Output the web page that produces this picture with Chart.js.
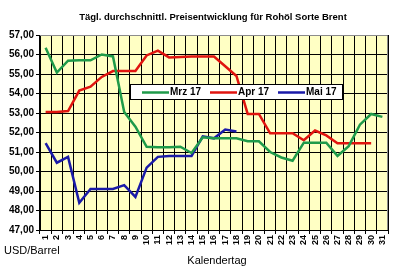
<!DOCTYPE html>
<html>
<head>
<meta charset="utf-8">
<script src="https://cdn.jsdelivr.net/npm/chart.js@4/dist/chart.umd.min.js"></script>
<style>
  html, body { margin: 0; padding: 0; background: #fff; }
  #wrap { width: 406px; height: 269px; position: relative; }
</style>
</head>
<body>
<div id="wrap"><canvas id="chart" width="406" height="269"></canvas></div>
<script>
// Daten
const days = Array.from({ length: 31 }, (_, i) => String(i + 1));

const mrz17 = [56.35, 55.07, 55.68, 55.70, 55.70, 56.00, 55.90, 53.05, 52.30, 51.27,
  51.25, 51.25, 51.27, 50.95, 51.75, 51.70, 51.70, 51.70, 51.55, 51.55,
  51.00, 50.72, 50.55, 51.48, 51.48, 51.48, 50.80, 51.30, 52.40, 52.95, 52.80];

const apr17 = [53.05, 53.05, 53.10, 54.15, 54.35, 54.85, 55.15, 55.15, 55.15, 55.95,
  56.20, 55.85, 55.87, 55.90, 55.90, 55.90, 55.40, 54.90, 52.95, 52.95,
  51.96, 51.96, 51.96, 51.60, 52.10, 51.85, 51.45, 51.45, 51.45, 51.45, null];

const mai17 = [51.45, 50.45, 50.75, 48.40, 49.10, 49.10, 49.10, 49.30, 48.70, 50.20,
  50.75, 50.80, 50.80, 50.80, 51.80, 51.70, 52.15, 52.05];

const seriesNames = ["Mrz 17", "Apr 17", "Mai 17"];
const seriesColors = ["#1f9a4a", "#e0140f", "#1a1aa8"];

const FONT = "'Liberation Sans', Arial, sans-serif";

// Hintergrund, Rahmen, Titel, Legende
const decor = {
  id: "decor",
  beforeDraw(chart) {
    const { ctx, chartArea: a } = chart;
    ctx.save();
    ctx.fillStyle = "#ffffc4";
    ctx.fillRect(a.left, a.top, a.right - a.left, a.bottom - a.top);
    ctx.restore();
  },
  afterDraw(chart) {
    const { ctx, chartArea: a } = chart;
    ctx.save();
    // Rahmen oben/rechts grau
    ctx.strokeStyle = "#8c8c8c";
    ctx.lineWidth = 1;
    ctx.beginPath();
    ctx.moveTo(a.left, a.top + 0.5);
    ctx.lineTo(a.right - 0.5, a.top + 0.5);
    ctx.lineTo(a.right - 0.5, a.bottom);
    ctx.stroke();

    // Titel
    ctx.fillStyle = "#000";
    ctx.font = "bold 9.5px " + FONT;
    ctx.textAlign = "center";
    ctx.textBaseline = "middle";
    ctx.fillText("Tägl. durchschnittl. Preisentwicklung für Rohöl Sorte Brent", 213, 17);

    // Achsentitel
    ctx.font = "11px " + FONT;
    ctx.textAlign = "left";
    ctx.fillText("USD/Barrel", 4, 251);
    ctx.textAlign = "center";
    ctx.fillText("Kalendertag", 217, 261);

    // Legende
    const lx = 130, ly = 84, lw = 213, lh = 16;
    ctx.fillStyle = "#fff";
    ctx.fillRect(lx, ly, lw, lh);
    ctx.strokeStyle = "#000";
    ctx.strokeRect(lx + 0.5, ly + 0.5, lw - 1, lh - 1);
    const starts = [142, 210, 278];
    ctx.font = "bold 10px " + FONT;
    ctx.textAlign = "left";
    chart.data.datasets.forEach((ds, i) => {
      const x = starts[i];
      const y = ly + lh / 2 + 0.5;
      ctx.strokeStyle = ds.borderColor;
      ctx.lineWidth = 2.5;
      ctx.beginPath();
      ctx.moveTo(x, y);
      ctx.lineTo(x + 27, y);
      ctx.stroke();
      ctx.fillStyle = "#000";
      ctx.fillText(ds.label, x + 28, y);
    });
    ctx.restore();
  },
};

new Chart(document.getElementById("chart"), {
  type: "line",
  data: {
    labels: days,
    datasets: [
      { label: seriesNames[0], data: mrz17, borderColor: seriesColors[0] },
      { label: seriesNames[1], data: apr17, borderColor: seriesColors[1] },
      { label: seriesNames[2], data: mai17, borderColor: seriesColors[2] },
    ].map((d) => ({ ...d, borderWidth: 2.5, pointRadius: 0, tension: 0, fill: false })),
  },
  options: {
    responsive: false,
    animation: false,
    layout: { padding: { top: 35, right: 18, left: 0, bottom: 0 } },
    plugins: { legend: { display: false }, title: { display: false }, tooltip: { enabled: false } },
    scales: {
      x: {
        offset: true,
        grid: { offset: true, color: "#000", lineWidth: 1, tickLength: 4, tickColor: "#000" },
        border: { color: "#000", width: 1 },
        ticks: {
          color: "#000",
          font: { family: FONT, size: 9, weight: "bold" },
          minRotation: 90,
          maxRotation: 90,
          autoSkip: false,
          padding: 1,
        },
        afterFit: (s) => { s.height = 39; },
      },
      y: {
        min: 47,
        max: 57,
        grid: { color: "#000", lineWidth: 1, tickLength: 4, tickColor: "#000" },
        border: { color: "#000", width: 1 },
        ticks: {
          stepSize: 1,
          color: "#000",
          font: { family: FONT, size: 10, weight: "bold" },
          padding: 2,
          callback: (v) => v.toFixed(2).replace(".", ","),
        },
        afterFit: (s) => { s.width = 40; },
      },
    },
  },
  plugins: [decor],
});
</script>
</body>
</html>
